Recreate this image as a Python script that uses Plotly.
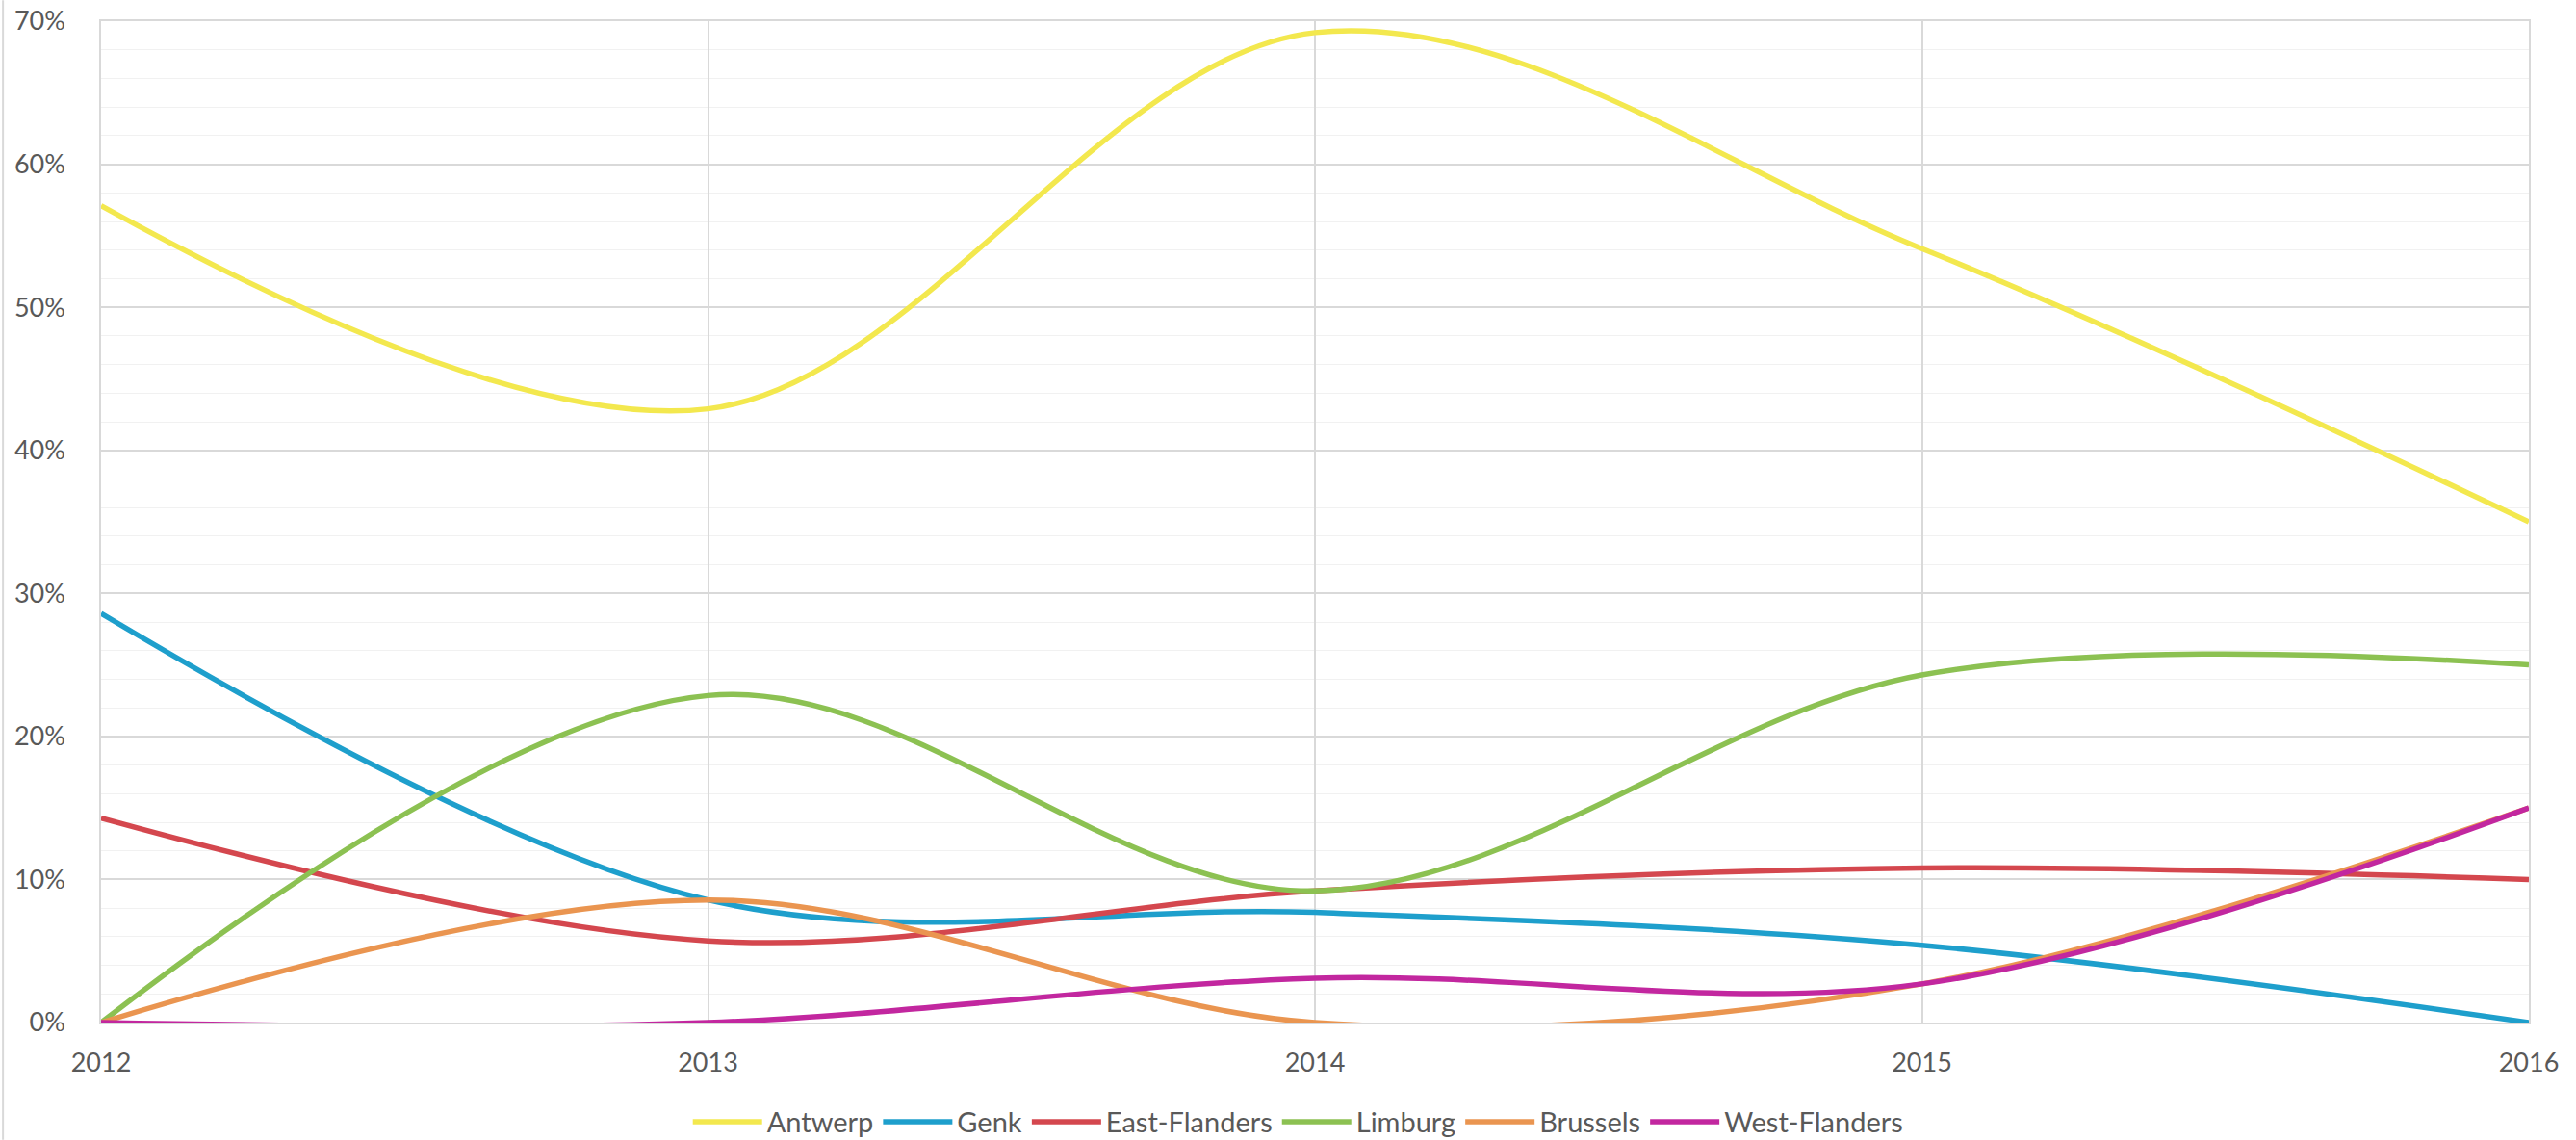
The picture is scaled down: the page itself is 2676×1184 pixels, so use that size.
import plotly.graph_objects as go

# Years on the horizontal axis
years = [2012, 2013, 2014, 2015, 2016]

# Share per region for each year
antwerp = [0.571, 0.429, 0.692, 0.541, 0.35]
genk = [0.286, 0.0857, 0.077, 0.054, 0.0]
east_flanders = [0.143, 0.0571, 0.092, 0.108, 0.10]
limburg = [0.0, 0.2286, 0.092, 0.243, 0.25]
brussels = [0.0, 0.0857, 0.0, 0.027, 0.15]
west_flanders = [0.0, 0.0, 0.031, 0.027, 0.15]

series_names = ["Antwerp", "Genk", "East-Flanders", "Limburg", "Brussels", "West-Flanders"]
series_values = [antwerp, genk, east_flanders, limburg, brussels, west_flanders]
series_colors = ["#F3E84E", "#1E9FCC", "#D4474E", "#8CC152", "#EA9550", "#C2279F"]

y_ticks = [0, 0.1, 0.2, 0.3, 0.4, 0.5, 0.6, 0.7]
y_tick_labels = ["0%", "10%", "20%", "30%", "40%", "50%", "60%", "70%"]

FONT = "Lato, 'Open Sans', sans-serif"
TEXT_COLOR = "#595959"

fig = go.Figure()
for name, vals, color in zip(series_names, series_values, series_colors):
    fig.add_trace(go.Scatter(
        x=years, y=vals, name=name, mode="lines",
        line=dict(color=color, width=5.5, shape="spline", smoothing=1.0),
    ))

fig.update_layout(
    width=2676, height=1184,
    margin=dict(l=105, r=49, t=22, b=122),
    paper_bgcolor="white", plot_bgcolor="white",
    font=dict(family=FONT, size=27, color=TEXT_COLOR),
    showlegend=True,
    legend=dict(
        orientation="h", xref="container", yref="container",
        x=0.504, xanchor="center", y=0.016, yanchor="middle",
        font=dict(family=FONT, size=29, color=TEXT_COLOR),
        itemwidth=72, tracegroupgap=0,
    ),
    xaxis=dict(
        range=[2012, 2016], tickvals=years, ticktext=[str(y) for y in years],
        showgrid=True, gridcolor="#D9D9D9", gridwidth=1.5,
        showline=True, linecolor="#D9D9D9", linewidth=1.5, mirror=True,
        zeroline=False, ticks="", ticklen=0, ticklabelstandoff=17, automargin=False,
        tickfont=dict(family=FONT, size=27, color=TEXT_COLOR),
    ),
    yaxis=dict(
        range=[0, 0.7], tickvals=y_ticks, ticktext=y_tick_labels,
        showgrid=True, gridcolor="#D9D9D9", gridwidth=1.5,
        minor=dict(dtick=0.02, showgrid=True, gridcolor="#F1F1F1", gridwidth=1.2),
        showline=True, linecolor="#D9D9D9", linewidth=1.5, mirror=True,
        zeroline=False, ticks="", ticklabelstandoff=30, automargin=False,
        tickfont=dict(family=FONT, size=27, color=TEXT_COLOR),
    ),
    shapes=[dict(type="line", xref="paper", yref="paper",
                 x0=-0.0404, x1=-0.0404, y0=-0.117, y1=1.021,
                 line=dict(color="#D9D9D9", width=2))],
)

fig.write_html("out.html")
